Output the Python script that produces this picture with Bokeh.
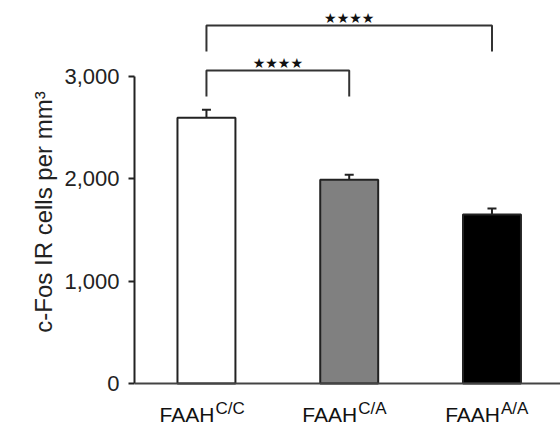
from bokeh.plotting import figure
from bokeh.models import (Range1d, FixedTicker, NumeralTickFormatter, Span, Title,
                          Whisker, TeeHead, ColumnDataSource)
from bokeh.core.properties import value
from bokeh.embed import file_html
from bokeh.resources import INLINE

# ---- data ----
genotypes = ["C/C", "C/A", "A/A"]
gene = "FAAH"
means = [2595, 1989, 1650]
sems = [78, 50, 60]
bar_colors = ["#ffffff", "#808080", "#000000"]
y_ticks = [0, 1000, 2000, 3000]
y_label = "c-Fos IR cells per mm\u00b3"
cmp_left = [0, 0]
cmp_right = [1, 2]
cmp_height = [3057, 3496]
cmp_text = ["****", "****"]

FONT = "Liberation Sans"
INK = "#222222"

xs = list(range(len(genotypes)))

p = figure(width=560, height=423, output_backend="svg", toolbar_location=None,
           x_range=Range1d(-0.504, 2.48), y_range=Range1d(-390.6, 3740),
           x_axis_location=None, min_border_left=134, min_border_right=0,
           min_border_top=0, min_border_bottom=0)
p.outline_line_color = None
p.grid.visible = False
p.background_fill_color = "white"
p.border_fill_color = "white"

# y axis
ax = p.yaxis[0]
ax.bounds = (0, 3000)
ax.ticker = FixedTicker(ticks=y_ticks)
ax.formatter = NumeralTickFormatter(format="0,0")
ax.major_tick_in = 0
ax.major_tick_out = 6
ax.minor_tick_line_color = None
ax.axis_line_width = 2
ax.axis_line_color = INK
ax.major_tick_line_width = 2
ax.major_tick_line_color = INK
ax.major_label_text_font = FONT
ax.major_label_text_font_size = "22px"
ax.major_label_text_color = INK
ax.major_label_standoff = 9

# y axis title (as a left-side title, centred on the frame)
p.add_layout(Title(text=y_label, align="center", text_font=FONT, text_font_size="24px",
                   text_font_style="normal", text_color=INK, standoff=9), "left")

# x axis line
p.add_layout(Span(location=0, dimension="width", line_color="#444444", line_width=2))

# bars
src = ColumnDataSource(dict(x=xs, top=means, color=bar_colors,
                            upper=[m + s for m, s in zip(means, sems)]))
p.vbar(x="x", top="top", bottom=0, width=0.406, source=src, fill_color="color",
       line_color=INK, line_width=2)

# error bars (upper only)
p.add_layout(Whisker(base="x", lower="top", upper="upper", source=src,
                     dimension="height", line_color=INK, line_width=2,
                     upper_head=TeeHead(size=9, line_color=INK, line_width=2),
                     lower_head=None))

# category labels with superscripts
p.text(x=xs, y=-305, text=[gene] * len(xs), text_align="right", text_baseline="alphabetic",
       x_offset=8, text_font=value(FONT), text_font_size="21px", text_color="#111111")
p.text(x=xs, y=-249, text=genotypes, text_align="left", text_baseline="alphabetic",
       x_offset=9, text_font=value(FONT), text_font_size="17px", text_color="#111111")

# significance brackets
drop = 255
bx, by = [], []
for l, r, h in zip(cmp_left, cmp_right, cmp_height):
    bx.append([xs[l], xs[l], xs[r], xs[r]])
    by.append([h - drop, h, h, h - drop])
p.multi_line(bx, by, line_color="#333333", line_width=2)
p.text(x=[(xs[l] + xs[r]) / 2 for l, r in zip(cmp_left, cmp_right)],
       y=[h + 75 for h in cmp_height], text=["\u2605\u2605\u2605\u2605" for _ in cmp_text],
       text_align="center", text_baseline="alphabetic", text_font=value("DejaVu Sans"),
       text_font_size="14px", text_color="#111111")

open("out.html", "w").write(file_html(p, INLINE))
